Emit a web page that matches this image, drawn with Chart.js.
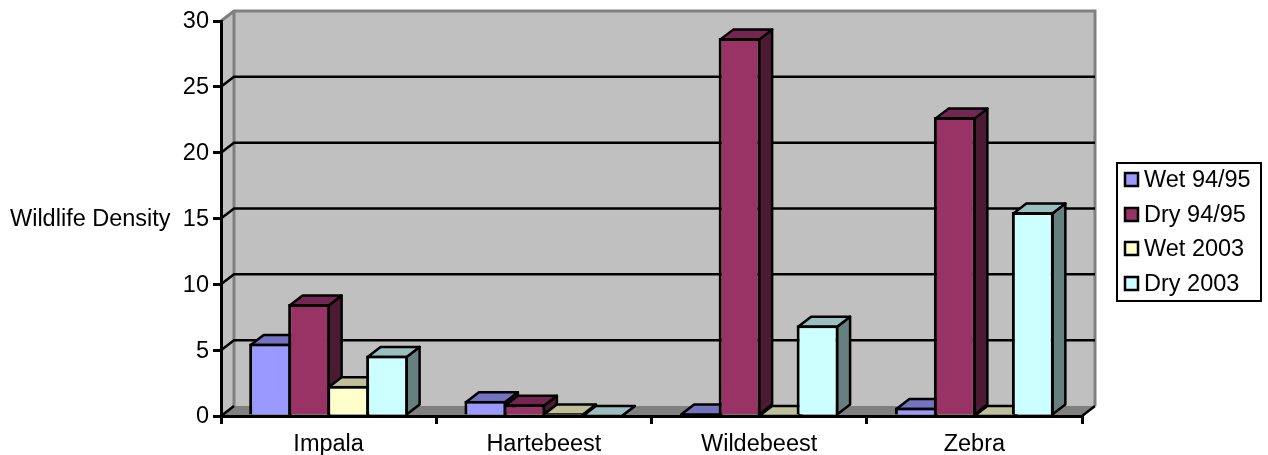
<!DOCTYPE html>
<html lang="en">

<head>
  <meta charset="UTF-8">
  <title>Wildlife Density</title>
  <script src="https://cdn.jsdelivr.net/npm/chart.js"></script>
  <style>
    body { margin: 0; background: #fff; }
    canvas { display: block; }
  </style>
</head>

<body>
  <canvas id="densityChart" width="1268" height="455"></canvas>
  <script>
    const categories = ['Impala', 'Hartebeest', 'Wildebeest', 'Zebra'];
    const wet9495 = [5.5, 1.15, 0.1, 0.65];
    const dry9495 = [8.5, 0.9, 28.7, 22.7];
    const wet2003 = [2.3, 0.05, 0, 0];
    const dry2003 = [4.6, 0, 6.9, 15.5];
    const yTitle = 'Wildlife Density';

    // depth of the fake 3D box, in pixels
    const DEPTH_X = 13;
    const DEPTH_Y = 10;
    const BAR_LINE = 3;
    const FONT_FAMILY = '"Liberation Sans", Arial, sans-serif';
    const FONT_SIZE = 23.5;

    const seriesList = [
      { label: 'Wet 94/95', data: wet9495, front: '#9999ff', top: '#7373bf', side: '#4d4d80' },
      { label: 'Dry 94/95', data: dry9495, front: '#993366', top: '#732650', side: '#4d1a33' },
      { label: 'Wet 2003', data: wet2003, front: '#ffffcc', top: '#bfbf99', side: '#808066' },
      { label: 'Dry 2003', data: dry2003, front: '#ccffff', top: '#99bfbf', side: '#668080' }
    ];

    const poly = (ctx, pts, fill, stroke, lineWidth) => {
      ctx.beginPath();
      pts.forEach((p, i) => i ? ctx.lineTo(p[0], p[1]) : ctx.moveTo(p[0], p[1]));
      ctx.closePath();
      if (fill) {
        ctx.fillStyle = fill;
        ctx.fill();
      }
      if (stroke) {
        ctx.strokeStyle = stroke;
        ctx.lineWidth = lineWidth;
        ctx.lineJoin = 'round';
        ctx.stroke();
      }
    };

    // back wall, side wall, floor and gridlines
    const boxPlugin = {
      id: 'box3d',
      beforeDraw(chart) {
        const { ctx, chartArea: a, scales } = chart;
        const dx = DEPTH_X;
        const dy = DEPTH_Y;
        ctx.save();
        poly(ctx, [[a.left, a.top], [a.left + dx, a.top - dy], [a.left + dx, a.bottom - dy], [a.left, a.bottom]], '#c0c0c0');
        poly(ctx, [[a.left + dx, a.top - dy], [a.right + dx, a.top - dy], [a.right + dx, a.bottom - dy], [a.left + dx, a.bottom - dy]], '#c0c0c0');
        poly(ctx, [[a.left, a.bottom], [a.left + dx, a.bottom - dy], [a.right + dx, a.bottom - dy], [a.right, a.bottom]], '#808080');

        // grey wall outline
        ctx.strokeStyle = '#808080';
        ctx.lineWidth = 3;
        ctx.beginPath();
        ctx.moveTo(a.left, a.top);
        ctx.lineTo(a.left + dx, a.top - dy);
        ctx.lineTo(a.right + dx, a.top - dy);
        ctx.lineTo(a.right + dx, a.bottom - dy);
        ctx.moveTo(a.left + dx, a.top - dy);
        ctx.lineTo(a.left + dx, a.bottom - dy);
        ctx.stroke();

        // gridlines run along the side wall and then across the back
        ctx.strokeStyle = '#000';
        ctx.lineWidth = 2.5;
        scales.y.ticks.forEach(t => {
          if (t.value === 0 || t.value === scales.y.max) return;
          const y = scales.y.getPixelForValue(t.value);
          ctx.beginPath();
          ctx.moveTo(a.left, y);
          ctx.lineTo(a.left + dx, y - dy);
          ctx.lineTo(a.right + dx, y - dy);
          ctx.stroke();
        });
        ctx.beginPath();
        ctx.moveTo(a.left, a.bottom);
        ctx.lineTo(a.left + dx, a.bottom - dy);
        ctx.moveTo(a.right, a.bottom);
        ctx.lineTo(a.right + dx, a.bottom - dy);
        ctx.stroke();
        ctx.restore();
      },
      // top and side faces, left to right; the library paints the fronts over them
      beforeDatasetsDraw(chart) {
        const { ctx } = chart;
        const inset = BAR_LINE / 2;
        ctx.save();
        categories.forEach((_, i) => {
          seriesList.forEach((s, d) => {
            const bar = chart.getDatasetMeta(d).data[i].getProps(['x', 'y', 'base', 'width'], true);
            const l = bar.x - bar.width / 2 + inset;
            const r = bar.x + bar.width / 2 - inset;
            const y = Math.min(bar.y + inset, bar.base);
            poly(ctx, [[r, y], [r + DEPTH_X, y - DEPTH_Y], [r + DEPTH_X, bar.base - DEPTH_Y], [r, bar.base]], s.side, '#000', 2.5);
            poly(ctx, [[l, y], [l + DEPTH_X, y - DEPTH_Y], [r + DEPTH_X, y - DEPTH_Y], [r, y]], s.top, '#000', 2.5);
          });
        });
        ctx.restore();
      },
      // horizontal axis title and the boxed legend
      afterDraw(chart) {
        const { ctx } = chart;
        ctx.save();
        ctx.font = FONT_SIZE + 'px ' + FONT_FAMILY;
        ctx.fillStyle = '#000';
        ctx.textBaseline = 'middle';
        ctx.textAlign = 'left';
        ctx.fillText(yTitle, 10, 220);

        ctx.strokeStyle = '#000';
        ctx.lineWidth = 2;
        ctx.strokeRect(1117, 163, 144, 138);
        const rowY = [181, 216, 250, 285];
        seriesList.forEach((s, i) => {
          ctx.lineWidth = 2.5;
          ctx.fillStyle = s.front;
          ctx.fillRect(1125, rowY[i] - 8, 13, 13);
          ctx.strokeRect(1125, rowY[i] - 8, 13, 13);
          ctx.fillStyle = '#000';
          ctx.fillText(s.label, 1144, rowY[i]);
        });
        ctx.restore();
      }
    };

    new Chart(document.getElementById('densityChart').getContext('2d'), {
      type: 'bar',
      data: {
        labels: categories,
        datasets: seriesList.map(s => ({
          label: s.label,
          data: s.data,
          backgroundColor: s.front,
          borderColor: '#000',
          borderWidth: BAR_LINE,
          borderSkipped: 'start'
        }))
      },
      options: {
        responsive: false,
        animation: false,
        events: [],
        // neighbouring bars overlap by one outline so they share a single line
        categoryPercentage: 0.7245,
        barPercentage: 1.077,
        layout: {
          padding: { left: 0, right: 186, top: 21, bottom: 0 }
        },
        plugins: {
          legend: { display: false },
          tooltip: { enabled: false }
        },
        scales: {
          x: {
            afterFit: scale => { scale.height = 39; },
            grid: { z: 1, drawOnChartArea: false, color: '#000', lineWidth: 3, tickLength: 8 },
            border: { z: 1, color: '#000', width: 3 },
            ticks: { color: '#000', font: { family: FONT_FAMILY, size: FONT_SIZE }, padding: 6, maxRotation: 0 }
          },
          y: {
            min: 0,
            max: 30,
            afterFit: scale => { scale.width = 221; },
            grid: { drawOnChartArea: false, color: '#000', lineWidth: 3, tickLength: 8 },
            border: { color: '#000', width: 3 },
            ticks: { stepSize: 5, color: '#000', font: { family: FONT_FAMILY, size: FONT_SIZE }, padding: 4, labelOffset: 1 }
          }
        }
      },
      plugins: [boxPlugin]
    });
  </script>
</body>

</html>
